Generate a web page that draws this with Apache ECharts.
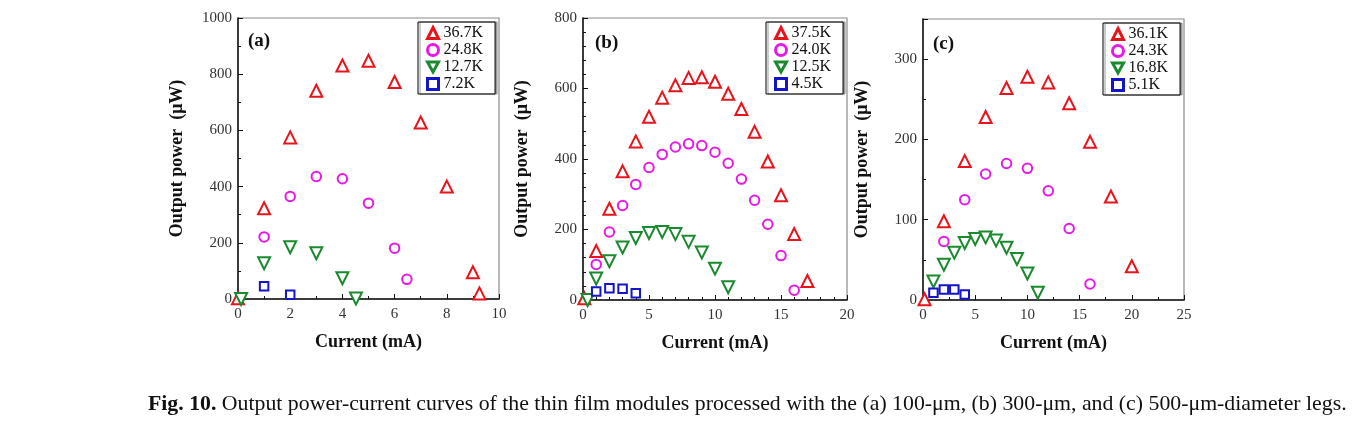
<!DOCTYPE html>
<html>
<head>
<meta charset="utf-8">
<script src="https://cdn.jsdelivr.net/npm/echarts@6/dist/echarts.min.js"></script>
<style>
  html, body { margin: 0; padding: 0; background: #fff; }
  #main { width: 1367px; height: 422px; }
</style>
</head>
<body>
<div id="main"></div>
<script>
// (a) 100-um legs
const aCurRed = [0, 1, 2, 3, 4, 5, 6, 7, 8, 9, 9.25]
const aPowRed = [3, 323, 575, 741, 831, 848, 772, 628, 400, 95, 20]
const aCurMag = [1, 2, 3, 4, 5, 6, 6.47]
const aPowMag = [221, 365, 436, 428, 341, 181, 70]
const aCurGrn = [0.12, 1, 2, 3, 4, 4.52]
const aPowGrn = [0, 127, 184, 163, 74, 2]
const aCurBlu = [1, 2]
const aPowBlu = [45, 15]
const aNames = ['36.7K', '24.8K', '12.7K', '7.2K']

// (b) 300-um legs
const bCurRed = [0.1, 1, 2, 3, 4, 5, 6, 7, 8, 9, 10, 11, 12, 13, 14, 15, 16, 17]
const bPowRed = [5, 139, 259, 365, 450, 520, 574, 609, 630, 632, 619, 585, 542, 477, 393, 297, 187, 54]
const bCurMag = [1, 2, 3, 4, 5, 6, 7, 8, 9, 10, 11, 12, 13, 14, 15, 16]
const bPowMag = [101, 193, 268, 328, 376, 413, 434, 443, 438, 419, 388, 343, 283, 215, 126, 28]
const bCurGrn = [0.35, 1, 2, 3, 4, 5, 6, 7, 8, 9, 10, 11]
const bPowGrn = [0, 61, 110, 149, 176, 190, 193, 187, 165, 135, 89, 36]
const bCurBlu = [1, 2, 3, 4]
const bPowBlu = [24, 33, 32, 19]
const bNames = ['37.5K', '24.0K', '12.5K', '4.5K']

// (c) 500-um legs
const cCurRed = [0.15, 2, 4, 6, 8, 10, 12, 14, 16, 18, 20]
const cPowRed = [1, 98, 173, 228, 264, 278, 271, 245, 197, 129, 42]
const cCurMag = [2, 4, 6, 8, 10, 12, 14, 16]
const cPowMag = [73, 125, 157, 170, 164, 136, 89, 20]
const cCurGrn = [1, 2, 3, 4, 5, 6, 7, 8, 9, 10, 11]
const cPowGrn = [23, 44, 59, 71, 76, 78, 74, 65, 51, 33, 9]
const cCurBlu = [1, 2, 3, 4]
const cPowBlu = [9, 13, 13, 7]
const cNames = ['36.1K', '24.3K', '16.8K', '5.1K']

// axis ranges
const xMax = [10, 20, 25]
const xStep = [2, 5, 5]
const yMax = [1000, 800, 350]
const yStep = [200, 200, 100]

const FONT = '"Liberation Serif", "Times New Roman", serif'
const RED = '#e8141c', MAG = '#e619e6', GRN = '#1a8a2e', BLU = '#1414c8'

const zip = (xs, ys) => xs.map((x, i) => [x, ys[i]])

const grids = [
  { left: 238, top: 18, width: 261, height: 281 },
  { left: 583, top: 18, width: 264, height: 282 },
  { left: 923, top: 19, width: 261, height: 281 }
].map(g => ({ ...g, show: true, borderColor: '#8a8a8a', borderWidth: 1.2, backgroundColor: 'transparent' }))

const minorX = [2, 5, 2]
const minorY = [2, 5, 2]

const xAxes = [0, 1, 2].map(i => ({
  gridIndex: i, type: 'value', min: 0, max: xMax[i], interval: xStep[i],
  name: 'Current (mA)', nameLocation: 'middle', nameGap: 34,
  nameTextStyle: { fontFamily: FONT, fontWeight: 'bold', fontSize: 18, color: '#111' },
  axisLine: { lineStyle: { color: '#111', width: 1.5 } },
  axisTick: { inside: true, length: 5, lineStyle: { color: '#111' } },
  minorTick: { show: true, splitNumber: minorX[i], length: 3, lineStyle: { color: '#111' } },
  splitLine: { show: false },
  axisLabel: { fontFamily: FONT, fontSize: 15, color: '#333', margin: 8 }
}))

const yAxes = [0, 1, 2].map(i => ({
  gridIndex: i, type: 'value', min: 0, max: yMax[i], interval: yStep[i],
  name: 'Output power  (\u03bcW)', nameLocation: 'middle', nameGap: 52,
  nameTextStyle: { fontFamily: FONT, fontWeight: 'bold', fontSize: 18, color: '#111' },
  axisLine: { lineStyle: { color: '#111', width: 1.5 } },
  axisTick: { inside: true, length: 5, lineStyle: { color: '#111' } },
  minorTick: { show: true, splitNumber: minorY[i], length: 3, lineStyle: { color: '#111' } },
  splitLine: { show: false },
  axisLabel: {
    fontFamily: FONT, fontSize: 15, color: '#333', margin: 6, showMaxLabel: i !== 2,
    formatter: v => String(v)
  }
}))

const downTri = 'path://M0,0 L10,0 L5,9 Z'
const styles = [
  { color: RED, symbol: 'triangle', size: 12, rot: 0 },
  { color: MAG, symbol: 'circle', size: 9.5, rot: 0 },
  { color: GRN, symbol: 'triangle', size: 12, rot: 180 },
  { color: BLU, symbol: 'rect', size: 8.5, rot: 0 }
]
const legendIcons = ['triangle', 'circle', downTri, 'rect']

const panels = [
  { names: aNames, data: [zip(aCurRed, aPowRed), zip(aCurMag, aPowMag), zip(aCurGrn, aPowGrn), zip(aCurBlu, aPowBlu)] },
  { names: bNames, data: [zip(bCurRed, bPowRed), zip(bCurMag, bPowMag), zip(bCurGrn, bPowGrn), zip(bCurBlu, bPowBlu)] },
  { names: cNames, data: [zip(cCurRed, cPowRed), zip(cCurMag, cPowMag), zip(cCurGrn, cPowGrn), zip(cCurBlu, cPowBlu)] }
]

const series = []
panels.forEach((p, i) => {
  p.data.forEach((d, k) => {
    const s = styles[k]
    series.push({
      type: 'scatter', name: p.names[k], xAxisIndex: i, yAxisIndex: i,
      symbol: s.symbol, symbolSize: s.size, symbolRotate: s.rot, clip: true,
      itemStyle: { color: '#fff', borderColor: s.color, borderWidth: 2, opacity: 1 },
      data: d
    })
  })
})

const legendPos = [
  { left: 418, top: 22 },
  { left: 766, top: 22 },
  { left: 1103, top: 23 }
]
const legends = panels.map((p, i) => ({
  ...legendPos[i], orient: 'vertical',
  data: p.names.map((n, k) => ({ name: n, icon: legendIcons[k] })),
  itemWidth: 11, itemHeight: 11, itemGap: 1,
  padding: [3, 12, 2, 8],
  borderColor: '#000', borderWidth: 1, backgroundColor: '#fff',
  shadowColor: '#9a9a9a', shadowOffsetX: 2, shadowOffsetY: 0, shadowBlur: 0,
  itemStyle: { borderWidth: 3, opacity: 1 },
  textStyle: { fontFamily: FONT, fontSize: 16, color: '#111' },
  selectedMode: false
}))

const panelLabels = [
  { x: 248, y: 42, t: '(a)' },
  { x: 595, y: 44, t: '(b)' },
  { x: 933, y: 45, t: '(c)' }
]

const myChart = echarts.init(document.getElementById('main'))
myChart.setOption({
  animation: false,
  grid: grids,
  xAxis: xAxes,
  yAxis: yAxes,
  legend: legends,
  series: series,
  graphic: [
    ...panelLabels.map(l => ({
      type: 'text', left: l.x, top: l.y - 10,
      style: { text: l.t, font: 'bold 19px ' + FONT, fill: '#111' }
    })),
    {
      type: 'text', left: 148, top: 393,
      style: {
        text: '{b|Fig. 10.} Output power-current curves of the thin film modules processed with the (a) 100-\u03bcm, (b) 300-\u03bcm, and (c) 500-\u03bcm-diameter legs.',
        font: '21.8px ' + FONT, fill: '#111',
        rich: { b: { fontFamily: FONT, fontWeight: 'bold', fontSize: 21.8, fill: '#111' } }
      }
    }
  ]
})
</script>
</body>
</html>
